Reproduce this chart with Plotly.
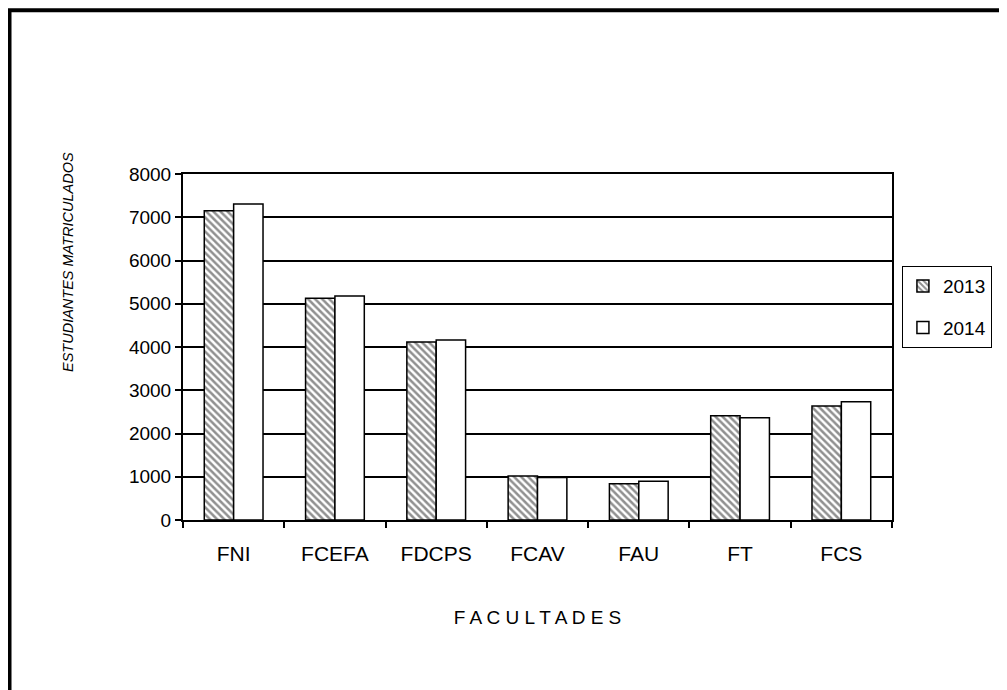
import plotly.graph_objects as go

facultades = ['FNI', 'FCEFA', 'FDCPS', 'FCAV', 'FAU', 'FT', 'FCS']
matriculados_2013 = [7150, 5130, 4115, 1015, 840, 2410, 2635]
matriculados_2014 = [7305, 5180, 4160, 985, 895, 2365, 2735]
y_ticks = [0, 1000, 2000, 3000, 4000, 5000, 6000, 7000, 8000]

font_main = 'Arial, Liberation Sans, sans-serif'

fig = go.Figure()
fig.add_trace(go.Bar(name='2013', x=facultades, y=matriculados_2013, legendgroup='a',
                     marker=dict(color='white',
                                 line=dict(color='black', width=1.5),
                                 pattern=dict(shape='\\', fgcolor='#222222', bgcolor='white',
                                              size=5, solidity=0.5))))
fig.add_trace(go.Bar(name='2014', x=facultades, y=matriculados_2014, legendgroup='b',
                     marker=dict(color='white', line=dict(color='black', width=1.5))))

# plot area: 709 x 346 px
fig.update_layout(
    width=1007, height=690,
    margin=dict(l=175, r=123, t=166, b=178),
    paper_bgcolor='white', plot_bgcolor='white',
    barmode='group', bargap=0.42, bargroupgap=0,
    font=dict(family=font_main, size=19, color='black'),
    showlegend=True,
    legend=dict(x=1.014, y=0.734, xanchor='left', yanchor='top',
                bordercolor='black', borderwidth=1, bgcolor='white',
                font=dict(size=19), itemwidth=30, tracegroupgap=14),
)

fig.update_xaxes(showline=True, linecolor='black', linewidth=2, mirror=True,
                 ticks='outside', ticklen=6, tickcolor='black', tickwidth=1.5,
                 tickson='boundaries', showgrid=False, tickfont=dict(size=21),
                 ticklabelstandoff=14,
                 title=dict(text='F A C U L T A D E S', font=dict(size=19), standoff=46))
fig.update_yaxes(showline=True, linecolor='black', linewidth=2, mirror=True,
                 range=[0, 8000], tickvals=y_ticks, ticks='outside', ticklen=6,
                 tickcolor='black', tickwidth=1.5, tickfont=dict(size=19),
                 showgrid=True, gridcolor='black', gridwidth=1.5, zeroline=False)

fig.add_annotation(text='<i>ESTUDIANTES MATRICULADOS</i>', xref='paper', yref='paper',
                   x=-0.1622, y=0.7457, xanchor='center', yanchor='middle',
                   textangle=-90, showarrow=False,
                   font=dict(size=14.5, family=font_main))

# outer chart frame (only top and left edges are visible)
fig.add_shape(type='rect', xref='paper', yref='paper',
              x0=-0.2447, x1=2, y0=-2, y1=1.4731,
              line=dict(color='black', width=4), layer='below')

fig.write_html("out.html")
